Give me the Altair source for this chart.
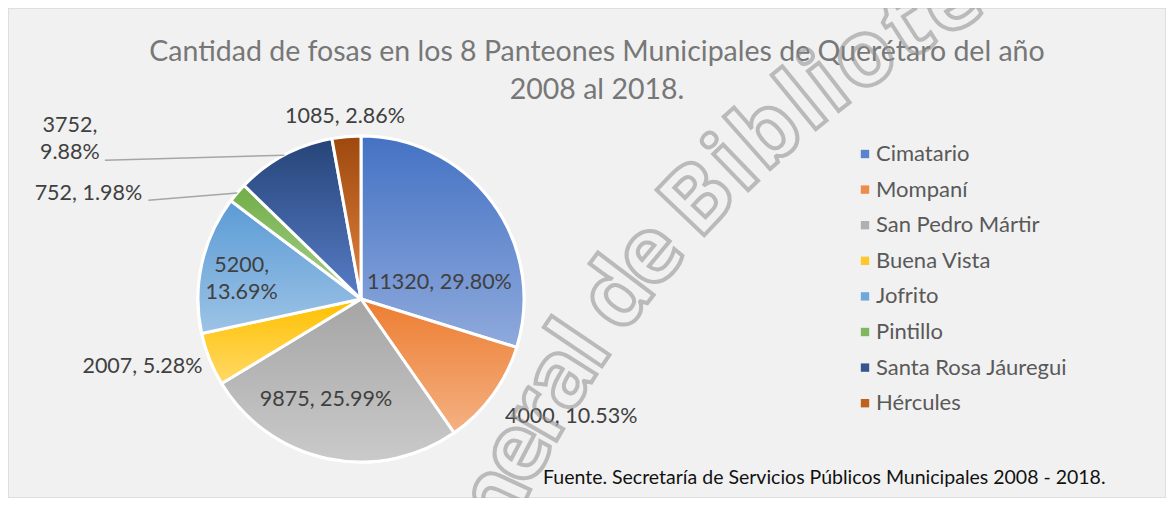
import altair as alt
import pandas as pd

# ---------------- data ----------------
categories = ["Cimatario", "Mompaní", "San Pedro Mártir", "Buena Vista",
              "Jofrito", "Pintillo", "Santa Rosa Jáuregui", "Hércules"]
values = [11320, 4000, 9875, 2007, 5200, 752, 3752, 1085]

title_lines = ["Cantidad de fosas en los 8 Panteones Municipales de Querétaro del año",
               "2008 al 2018."]
source_note = "Fuente. Secretaría de Servicios Públicos Municipales 2008 - 2018."
watermark_text = "Dirección General de Bibliotecas"

# ---------------- styles / layout ----------------
color_top = ["#4472C4", "#ED7D31", "#A5A5A5", "#FFC000",
             "#5B9BD5", "#70AD47", "#264478", "#9E480E"]
color_bottom = ["#8FAADC", "#F4B183", "#CACACA", "#FFD966",
                "#9DC3E6", "#A9D18E", "#587DC8", "#E2853F"]
legend_colors = ["#5B82CC", "#EF8C4B", "#B0B0B0", "#FFC82A",
                 "#6FA8DB", "#80B65E", "#34558E", "#C0621F"]

W, H = 1158, 490
CX, CY, R = 353, 291, 163
FONT = "Lato"
LABEL_SIZE = 21.5
LINE_H = 27

# label placement (pixels from centre, degrees of shift from slice mid-angle)
label_radius = [80, 241, 107, 229, 121, 292, 332, 183]
label_shift = [24.8, -6.9, 7.1, 4.4, -2.9, -19.6, -33.2, 0.1]
label_two_lines = [False, False, False, False, True, False, True, False]
leader_dx = [None, None, None, None, None, 60, 35, None]
leader_dy = [None, None, None, None, None, 6, 21, None]

# watermark: text set on a large arc (approximate glyph advances, em units)
WM_FS = 92                 # glyph size
WM_SPACING_L = 84          # px per em of advance along the arc (before the "B")
WM_SPACING_R = 100         # px per em of advance along the arc (from the "B")
WM_CX, WM_CY, WM_R = 1507, 968, 1126
WM_PHI_B = -136.4          # polar angle (deg) of the "B"
glyph_adv = {"D": .72, "i": .30, "r": .44, "e": .59, "c": .52, "ó": .62,
             "n": .64, " ": .26, "G": .71, "a": .61, "l": .30, "d": .635,
             "B": .665, "b": .635, "o": .62, "t": .43, "s": .49}

df = pd.DataFrame({
    "cat": categories,
    "value": values,
    "order": list(range(len(categories))),
    "lr": label_radius,
    "lshift": label_shift,
    "two": label_two_lines,
    "ldx": leader_dx,
    "ldy": leader_dy,
})

base = (
    alt.Chart(df)
    .transform_joinaggregate(total="sum(value)")
    .transform_window(cum="sum(value)", sort=[alt.SortField("order")])
    .transform_calculate(
        t0="2*PI*(datum.cum - datum.value)/datum.total",
        t1="2*PI*datum.cum/datum.total",
        tm="PI*(2*datum.cum - datum.value)/datum.total",
        pct="datum.value/datum.total",
    )
)

theta = alt.Theta("t0:Q", scale=None)
theta2 = alt.Theta2("t1:Q")

# flat layer (drives the legend)
flat = base.mark_arc(outerRadius=R, stroke="white", strokeWidth=3).encode(
    theta=theta, theta2=theta2,
    x=alt.value(CX), y=alt.value(CY),
    color=alt.Color(
        "cat:N",
        scale=alt.Scale(domain=categories, range=legend_colors),
        sort=categories,
        legend=alt.Legend(
            title=None, orient="none", legendX=846, legendY=135,
            symbolType="square", symbolSize=70, symbolStrokeWidth=0,
            labelFont=FONT, labelFontSize=22, labelColor="#595959",
            labelOffset=0, rowPadding=13.6, padding=0, labelLimit=400,
        ),
    ),
)

layers = [flat]
for cat, top, bot in zip(categories, color_top, color_bottom):
    grad = alt.Gradient(
        gradient="linear", x1=0, y1=0, x2=0, y2=1,
        stops=[alt.GradientStop(offset=0, color=top),
               alt.GradientStop(offset=1, color=bot)],
    )
    layers.append(
        base.transform_filter(alt.datum.cat == cat)
        .mark_arc(outerRadius=R, stroke="white", strokeWidth=3,
                  strokeJoin="round", fill=grad)
        .encode(theta=theta, theta2=theta2, x=alt.value(CX), y=alt.value(CY))
    )

lab = base.transform_calculate(
    lx=f"{CX} + datum.lr*sin(datum.tm + datum.lshift*PI/180)",
    ly=f"{CY} - datum.lr*cos(datum.tm + datum.lshift*PI/180)",
    txt="format(datum.value, 'd') + (datum.two ? ',|' : ', ') + format(datum.pct, '.2%')",
).transform_calculate(
    ty=f"datum.ly - (datum.two ? {LINE_H / 2} : 0)",
)

labels = lab.mark_text(
    font=FONT, fontSize=LABEL_SIZE, color="#404040", align="center",
    baseline="middle", lineBreak="|", lineHeight=LINE_H,
).encode(
    x=alt.X("lx:Q", scale=None), y=alt.Y("ty:Q", scale=None), text="txt:N"
)

leaders = lab.transform_filter("datum.ldx != null").transform_calculate(
    ex=f"{CX} + {R}*sin(datum.tm)",
    ey=f"{CY} - {R}*cos(datum.tm)",
    ex2="datum.lx + datum.ldx",
    ey2="datum.ly + datum.ldy",
).mark_rule(color="#A6A6A6", strokeWidth=1.5).encode(
    x=alt.X("ex:Q", scale=None), y=alt.Y("ey:Q", scale=None),
    x2="ex2:Q", y2="ey2:Q",
)

title = alt.Chart(pd.DataFrame({"t": ["|".join(title_lines)]})).mark_text(
    font=FONT, fontSize=28.5, fontWeight=400, color="#777777", align="center",
    baseline="middle", lineBreak="|", lineHeight=38,
).encode(x=alt.value(589), y=alt.value(44), text="t:N")

note = alt.Chart(pd.DataFrame({"t": [source_note]})).mark_text(
    font=FONT, fontSize=19.5, color="#111111", align="left", baseline="middle",
).encode(x=alt.value(535), y=alt.value(470), text="t:N")

# watermark characters with their centre advance (em) relative to the "B"
chars = list(watermark_text)
centers, acc = [], 0.0
for ch in chars:
    w = glyph_adv.get(ch, 0.6)
    centers.append(acc + w / 2)
    acc += w
b_center = centers[watermark_text.index("B")]
wm_df = pd.DataFrame({"ch": chars, "adv": [c - b_center for c in centers]})

wm = alt.Chart(wm_df).transform_calculate(
    phi=(f"{WM_PHI_B}*PI/180 + datum.adv*(datum.adv < 0 ? {WM_SPACING_L} : "
         f"{WM_SPACING_R})/{WM_R}"),
).transform_calculate(
    wx=f"{WM_CX} + {WM_R}*cos(datum.phi)",
    wy=f"{WM_CY} + {WM_R}*sin(datum.phi)",
    rot="(datum.phi*180/PI + 90 + 360) % 360",
).transform_filter(
    f"datum.ch != ' ' && datum.wx > -60 && datum.wx < {W + 60} && datum.wy > -60 && datum.wy < {H + 60}"
).mark_text(
    font="Open Sans", fontSize=WM_FS, fontWeight="bold", align="center",
    baseline="middle", fillOpacity=0, stroke="#8C8C8C", strokeWidth=4,
    strokeOpacity=0.55,
).encode(
    x=alt.X("wx:Q", scale=None), y=alt.Y("wy:Q", scale=None),
    angle=alt.Angle("rot:Q", scale=None), text="ch:N",
)

chart = (
    alt.layer(*layers, leaders, labels, title, note, wm)
    .properties(width=W, height=H, padding=0,
                autosize=alt.AutoSizeParams(type="none"), background="white")
    .configure_view(fill="#F1F1F1", stroke="#D9D9D9", strokeWidth=1.5)
)

chart.save("out.html", embed_options={"renderer": "svg", "actions": False})
